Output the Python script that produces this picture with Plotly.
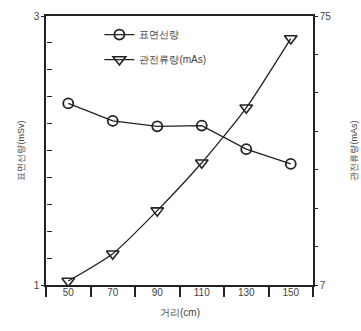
import plotly.graph_objects as go

# Distance from the source (cm)
distance = [50, 70, 90, 110, 130, 150]
# Surface dose (mSv), left axis
surface_dose = [2.35, 2.22, 2.18, 2.185, 2.01, 1.90]
# Tube current-time product (mAs), right axis
tube_mas = [8.0, 14.9, 25.8, 37.9, 51.8, 69.3]

x_labels = [50, 70, 90, 110, 130, 150]
x_bounds = [40, 60, 80, 100, 120, 140, 160]
left_ticks = [1, 3]
left_minor = [round(1 + 0.2 * k, 1) for k in range(1, 10)]
right_ticks = [7 + 68 / 7 * k for k in range(8)]
right_text = ["7"] + [""] * 6 + ["75"]

ink = "#222222"
txt = "#444444"
font = "Arial, Liberation Sans, sans-serif"

fig = go.Figure()
fig.add_trace(go.Scatter(
    x=distance, y=surface_dose, name="표면선량", mode="lines+markers",
    line=dict(color=ink, width=1.3),
    marker=dict(symbol="circle-open", size=10, color=ink, line=dict(width=1.8)),
    legendgroup="a",
))
fig.add_trace(go.Scatter(
    x=distance, y=tube_mas, name="관전류량(mAs)", mode="lines+markers",
    line=dict(color=ink, width=1.3, shape="spline", smoothing=0.6),
    marker=dict(symbol="triangle-down-open", size=11, color=ink, line=dict(width=1.6)),
    yaxis="y2", legendgroup="b",
))
# carrier traces for the labelled distance axis and the inner dose ticks
fig.add_trace(go.Scatter(
    x=distance, y=surface_dose, xaxis="x2", mode="markers",
    marker=dict(opacity=0), showlegend=False, hoverinfo="skip",
))
fig.add_trace(go.Scatter(
    x=distance, y=surface_dose, yaxis="y3", mode="markers",
    marker=dict(opacity=0), showlegend=False, hoverinfo="skip",
))

fig.update_layout(
    width=361, height=331,
    margin=dict(l=46, r=48, t=10, b=46),
    paper_bgcolor="white", plot_bgcolor="white",
    font=dict(family=font, size=10, color=txt),
    showlegend=True,
    legend=dict(x=0.2, y=0.985, xanchor="left", yanchor="top",
                bgcolor="rgba(0,0,0,0)", font=dict(size=10, color=txt),
                tracegroupgap=6, itemwidth=30),
    xaxis=dict(range=[40, 160], tickvals=x_bounds, showticklabels=False,
               ticks="outside", ticklen=10, tickcolor=ink, tickwidth=1.5,
               showgrid=False, zeroline=False,
               showline=True, linecolor=ink, linewidth=1.5, mirror=True),
    xaxis2=dict(range=[40, 160], overlaying="x", side="bottom",
                tickvals=x_labels, ticktext=[str(v) for v in x_labels],
                ticks="", showline=False, showgrid=False, zeroline=False,
                tickfont=dict(size=10, color=txt)),
    yaxis=dict(range=[1, 3], tickvals=left_ticks,
               ticks="outside", ticklen=3, tickcolor=ink, tickwidth=1.2,
               showgrid=False, zeroline=False,
               showline=True, linecolor=ink, linewidth=1.5,
               tickfont=dict(size=10, color=txt)),
    yaxis3=dict(range=[1, 3], tickvals=left_minor, showticklabels=False,
                overlaying="y", side="right", anchor="free", position=0,
                ticks="outside", ticklen=5, tickcolor=ink, tickwidth=1.4,
                showline=False, showgrid=False, zeroline=False),
    yaxis2=dict(range=[7, 75], tickvals=right_ticks, ticktext=right_text,
                overlaying="y", side="right",
                ticks="outside", ticklen=3, tickcolor=ink, tickwidth=1.2,
                showgrid=False, zeroline=False,
                showline=True, linecolor=ink, linewidth=1.5,
                tickfont=dict(size=10, color=txt)),
    annotations=[
        dict(text="표면선량(mSv)", x=-26 / 267, xanchor="center", y=0.5,
             xref="paper", yref="paper",
             showarrow=False, textangle=-90, font=dict(size=9, color=txt)),
        dict(text="관전류량(mAs)", x=1 + 40 / 267, xanchor="center", y=0.5,
             xref="paper", yref="paper",
             showarrow=False, textangle=-90, font=dict(size=9, color=txt)),
        dict(text="거리(cm)", x=0.5, y=-0.13, xref="paper", yref="paper",
             showarrow=False, font=dict(size=10, color=txt)),
    ],
)

fig.write_html("out.html")
